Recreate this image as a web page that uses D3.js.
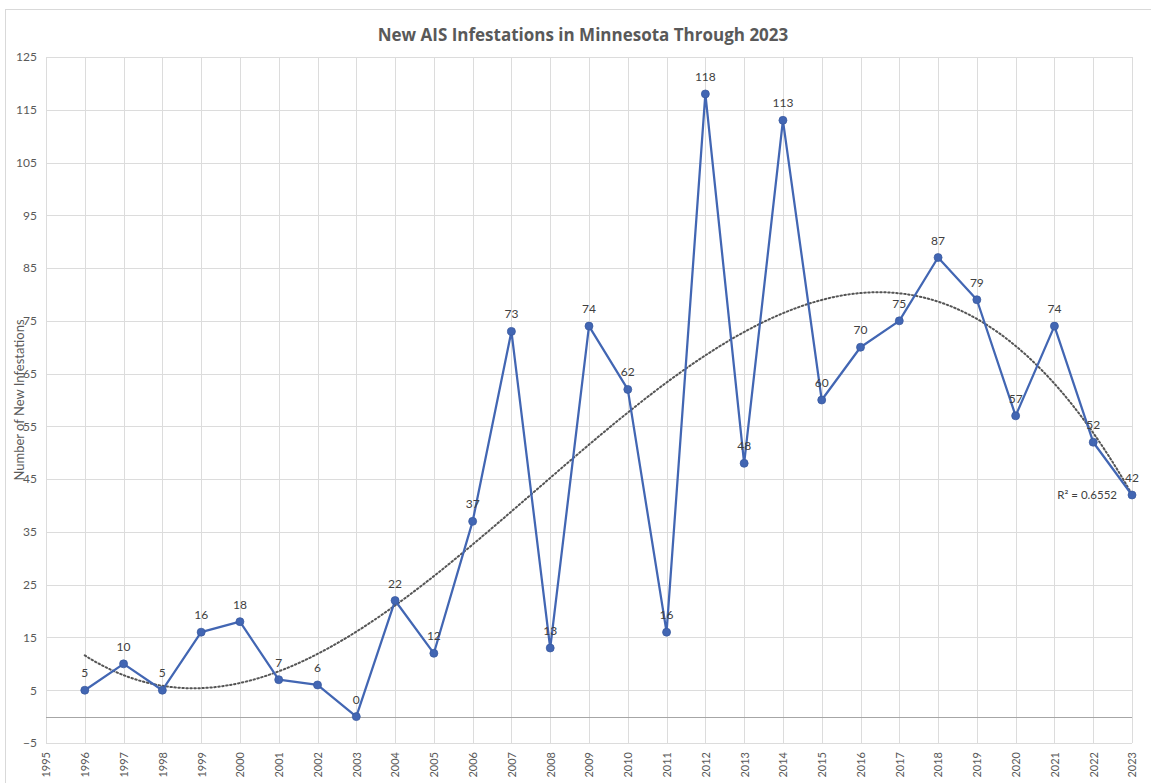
<!DOCTYPE html>
<html>
<head>
<meta charset="utf-8">
<script src="https://cdn.jsdelivr.net/npm/d3@7"></script>
<style>
  html, body { margin: 0; padding: 0; background: #ffffff; }
  svg { display: block; }
</style>
</head>
<body>
<svg id="chart" width="1151" height="783"></svg>
<script>
// ---- Data ----
const years = [1996,1997,1998,1999,2000,2001,2002,2003,2004,2005,2006,2007,2008,2009,2010,2011,2012,2013,2014,2015,2016,2017,2018,2019,2020,2021,2022,2023];
const infestations = [5,10,5,16,18,7,6,0,22,12,37,73,13,74,62,16,118,48,113,60,70,75,87,79,57,74,52,42];
const xTickYears = [1995,1996,1997,1998,1999,2000,2001,2002,2003,2004,2005,2006,2007,2008,2009,2010,2011,2012,2013,2014,2015,2016,2017,2018,2019,2020,2021,2022,2023];
const yTicks = [-5,5,15,25,35,45,55,65,75,85,95,105,115,125];
const titleText = "New AIS Infestations in Minnesota Through 2023";
const yAxisTitle = "Number of New Infestations";
const r2Text = "R² = 0.6552";

(function () {
// ---- Layout ----
const svg = d3.select("#chart");
const pLeft = 46, pRight = 1132, pTop = 57, pBottom = 743;
const x = d3.scaleLinear().domain([1995, 2023]).range([pLeft, pRight]);
const y = d3.scaleLinear().domain([-5, 125]).range([pBottom, pTop]);
const font = "Lato, 'Open Sans', sans-serif";
const blue = "#4266b3";

// chart border
svg.append("rect").attr("x", 5.5).attr("y", 9.5).attr("width", 1200).attr("height", 800)
  .attr("fill", "#fff").attr("stroke", "#d9d9d9").attr("stroke-width", 1);

// gridlines
const grid = svg.append("g");
grid.selectAll("line.h").data(yTicks).join("line").attr("class", "h")
  .attr("x1", pLeft).attr("x2", pRight)
  .attr("y1", d => Math.round(y(d)) + 0.5).attr("y2", d => Math.round(y(d)) + 0.5)
  .attr("stroke", "#dcdcdc").attr("stroke-width", 1);
grid.selectAll("line.v").data(xTickYears).join("line").attr("class", "v")
  .attr("x1", d => Math.round(x(d)) + 0.5).attr("x2", d => Math.round(x(d)) + 0.5)
  .attr("y1", pTop).attr("y2", pBottom)
  .attr("stroke", "#dcdcdc").attr("stroke-width", 1);

// zero line
svg.append("line").attr("x1", pLeft).attr("x2", pRight)
  .attr("y1", Math.round(y(0)) + 0.5).attr("y2", Math.round(y(0)) + 0.5)
  .attr("stroke", "#a6a6a6").attr("stroke-width", 1);

// y axis labels
const yAxis = d3.axisLeft(y).tickValues(yTicks).tickSize(0).tickPadding(9);
const gy = svg.append("g").attr("transform", `translate(${pLeft},0)`).call(yAxis);
gy.select(".domain").remove();
gy.selectAll("text").attr("font-family", font).attr("font-size", 12).attr("fill", "#595959");

// x axis labels
const xAxis = d3.axisBottom(x).tickValues(xTickYears).tickFormat(d3.format("d")).tickSize(0);
const gx = svg.append("g").attr("transform", `translate(0,${pBottom})`).call(xAxis);
gx.select(".domain").remove();
gx.selectAll("text")
  .attr("font-family", font).attr("font-size", 11).attr("fill", "#595959")
  .attr("transform", "rotate(-90)")
  .attr("text-anchor", "end")
  .attr("dy", "0.35em")
  .attr("x", -9).attr("y", 0);

// cubic polynomial trendline (least squares fit of the data)
function polyFit(xs, ys, order) {
  const n = order + 1;
  const A = Array.from({length: n}, () => new Array(n + 1).fill(0));
  for (let i = 0; i < xs.length; i++) {
    for (let r = 0; r < n; r++) {
      for (let c = 0; c < n; c++) A[r][c] += Math.pow(xs[i], r + c);
      A[r][n] += ys[i] * Math.pow(xs[i], r);
    }
  }
  for (let c = 0; c < n; c++) {
    let p = c;
    for (let r = c + 1; r < n; r++) if (Math.abs(A[r][c]) > Math.abs(A[p][c])) p = r;
    [A[c], A[p]] = [A[p], A[c]];
    for (let r = 0; r < n; r++) {
      if (r === c) continue;
      const f = A[r][c] / A[c][c];
      for (let k = c; k <= n; k++) A[r][k] -= f * A[c][k];
    }
  }
  return A.map((row, i) => row[n] / row[i]);
}
const idx = years.map((d, i) => i + 1);
const coef = polyFit(idx, infestations, 3);
const trendVal = t => coef.reduce((s, c, k) => s + c * Math.pow(t, k), 0);
const trendPts = d3.range(1, years.length + 0.001, 0.1).map(t => [years[0] + (t - 1), trendVal(t)]);
svg.append("path").datum(trendPts)
  .attr("d", d3.line().x(d => x(d[0])).y(d => y(d[1])))
  .attr("fill", "none").attr("stroke", "#555").attr("stroke-width", 2)
  .attr("stroke-dasharray", "1.5,2.5").attr("stroke-linecap", "round");

// data line
const pts = years.map((yr, i) => ({year: yr, value: infestations[i]}));
svg.append("path").datum(pts)
  .attr("d", d3.line().x(d => x(d.year)).y(d => y(d.value)))
  .attr("fill", "none").attr("stroke", blue).attr("stroke-width", 2.25)
  .attr("stroke-linejoin", "round");

svg.append("g").selectAll("circle").data(pts).join("circle")
  .attr("cx", d => x(d.year)).attr("cy", d => y(d.value)).attr("r", 4)
  .attr("fill", blue).attr("stroke", "#3a5a9f").attr("stroke-width", 0.75);

// data labels
svg.append("g").selectAll("text").data(pts).join("text")
  .attr("x", d => x(d.year)).attr("y", d => y(d.value) - 13)
  .attr("text-anchor", "middle")
  .attr("font-family", font).attr("font-size", 12).attr("fill", "#404040")
  .text(d => d.value);

// R² label
svg.append("text").attr("x", 1117).attr("y", y(42) + 4)
  .attr("text-anchor", "end")
  .attr("font-family", font).attr("font-size", 11.5).attr("fill", "#404040")
  .text(r2Text);

// title
svg.append("text").attr("x", 583).attr("y", 41)
  .attr("text-anchor", "middle")
  .attr("font-family", "'Open Sans', Lato, sans-serif").attr("font-size", 17).attr("font-weight", 700).attr("fill", "#595959")
  .text(titleText);

// y axis title
svg.append("text")
  .attr("transform", `translate(24,400) rotate(-90)`)
  .attr("text-anchor", "middle")
  .attr("font-family", font).attr("font-size", 13).attr("fill", "#595959")
  .text(yAxisTitle);
})();
</script>
</body>
</html>
